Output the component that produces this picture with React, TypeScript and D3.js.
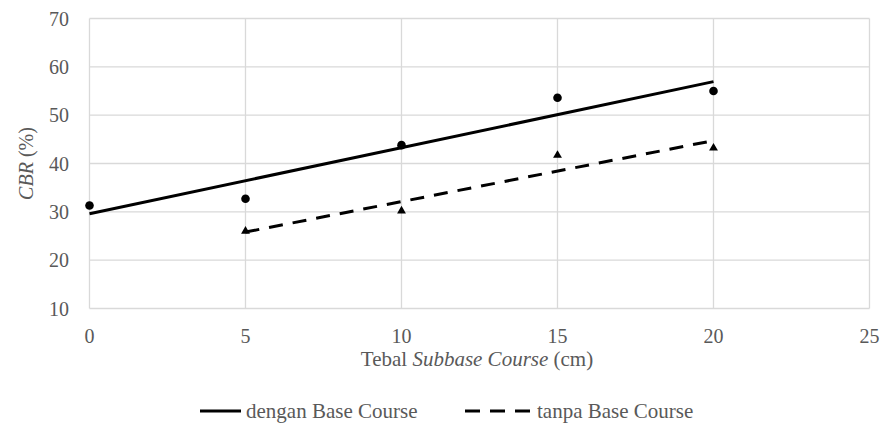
import React, { useEffect, useRef } from "react";
import * as d3 from "d3";

const xTicks = [0, 5, 10, 15, 20, 25];
const yTicks = [10, 20, 30, 40, 50, 60, 70];
const denganX = [0, 5, 10, 15, 20];
const denganY = [31.3, 32.7, 43.8, 53.6, 55.0];
const tanpaX = [5, 10, 15, 20];
const tanpaY = [26.0, 30.2, 41.7, 43.2];
const xTitle = ["Tebal ", "Subbase Course", " (cm)"];
const yTitle = ["CBR", " (%)"];
const legendLabels = ["dengan Base Course", "tanpa Base Course"];

function fit(xs: number[], ys: number[]) {
  const mx = d3.mean(xs)!;
  const my = d3.mean(ys)!;
  let num = 0, den = 0;
  xs.forEach((x, i) => { num += (x - mx) * (ys[i] - my); den += (x - mx) ** 2; });
  const b = num / den;
  const a = my - b * mx;
  return (x: number) => a + b * x;
}

export default function App() {
  const ref = useRef<SVGSVGElement>(null);
  const W = 888, H = 437;
  useEffect(() => {
    const svg = d3.select(ref.current);
    svg.selectAll("*").remove();
    const FONT = "Times New Roman, Liberation Serif, serif";
    const grey = "#595959";
    const x = d3.scaleLinear().domain([0, 25]).range([89.5, 869.5]);
    const y = d3.scaleLinear().domain([10, 70]).range([308.5, 18.5]);
    const g = svg.append("g").attr("font-family", FONT);
    g.selectAll(".gx").data(xTicks).join("line")
      .attr("x1", d => x(d)).attr("x2", d => x(d)).attr("y1", y(70)).attr("y2", y(10))
      .attr("stroke", "#d9d9d9").attr("stroke-width", 1.3);
    g.selectAll(".gy").data(yTicks).join("line")
      .attr("x1", x(0)).attr("x2", x(25)).attr("y1", d => y(d)).attr("y2", d => y(d))
      .attr("stroke", "#d9d9d9").attr("stroke-width", 1.3);
    g.selectAll(".ty").data(yTicks).join("text")
      .attr("x", 69).attr("y", d => y(d) + 7).attr("text-anchor", "end")
      .attr("font-family", FONT).attr("font-size", 20).attr("fill", grey).text(d => d);
    g.selectAll(".tx").data(xTicks).join("text")
      .attr("x", d => x(d)).attr("y", 343).attr("text-anchor", "middle")
      .attr("font-family", FONT).attr("font-size", 20).attr("fill", grey).text(d => d);

    const f1 = fit(denganX, denganY);
    const f2 = fit(tanpaX, tanpaY);
    const e1 = d3.extent(denganX) as [number, number];
    const e2 = d3.extent(tanpaX) as [number, number];
    const line = d3.line<number>().x(d => x(d));
    g.append("path").attr("d", line.y(d => y(f1(d)))(e1)!)
      .attr("stroke", "#000").attr("stroke-width", 3).attr("fill", "none");
    g.append("path").attr("d", line.y(d => y(f2(d)))(e2)!)
      .attr("stroke", "#000").attr("stroke-width", 3).attr("fill", "none").attr("stroke-dasharray", "14 10");
    g.selectAll(".c").data(denganX).join("circle")
      .attr("cx", d => x(d)).attr("cy", (d, i) => y(denganY[i])).attr("r", 4.3).attr("fill", "#000");
    const tri = d3.symbol().type(d3.symbolTriangle).size(34)()!;
    g.selectAll(".t").data(tanpaX).join("path")
      .attr("d", tri).attr("transform", (d, i) => `translate(${x(d)},${y(tanpaY[i])})`).attr("fill", "#000");

    const yt = g.append("text").attr("transform", `translate(33,${y(40)}) rotate(-90)`)
      .attr("text-anchor", "middle").attr("font-family", FONT).attr("font-size", 20).attr("fill", grey);
    yt.append("tspan").attr("font-style", "italic").text(yTitle[0]);
    yt.append("tspan").text(yTitle[1]);
    const xt = g.append("text").attr("x", 477).attr("y", 366)
      .attr("text-anchor", "middle").attr("font-family", FONT).attr("font-size", 21).attr("fill", grey);
    xt.append("tspan").text(xTitle[0]);
    xt.append("tspan").attr("font-style", "italic").text(xTitle[1]);
    xt.append("tspan").text(xTitle[2]);

    g.append("line").attr("x1", 200).attr("x2", 241).attr("y1", 411).attr("y2", 411)
      .attr("stroke", "#000").attr("stroke-width", 3);
    g.append("text").attr("x", 246).attr("y", 418).attr("font-family", FONT).attr("font-size", 21)
      .attr("fill", grey).text(legendLabels[0]);
    g.append("line").attr("x1", 465).attr("x2", 530).attr("y1", 411).attr("y2", 411)
      .attr("stroke", "#000").attr("stroke-width", 3).attr("stroke-dasharray", "15 10");
    g.append("text").attr("x", 537).attr("y", 418).attr("font-family", FONT).attr("font-size", 21)
      .attr("fill", grey).text(legendLabels[1]);
  }, []);
  return (
    <svg ref={ref} width={W} height={H} style={{ position: "absolute", left: 0, top: 0, display: "block" }} />
  );
}
